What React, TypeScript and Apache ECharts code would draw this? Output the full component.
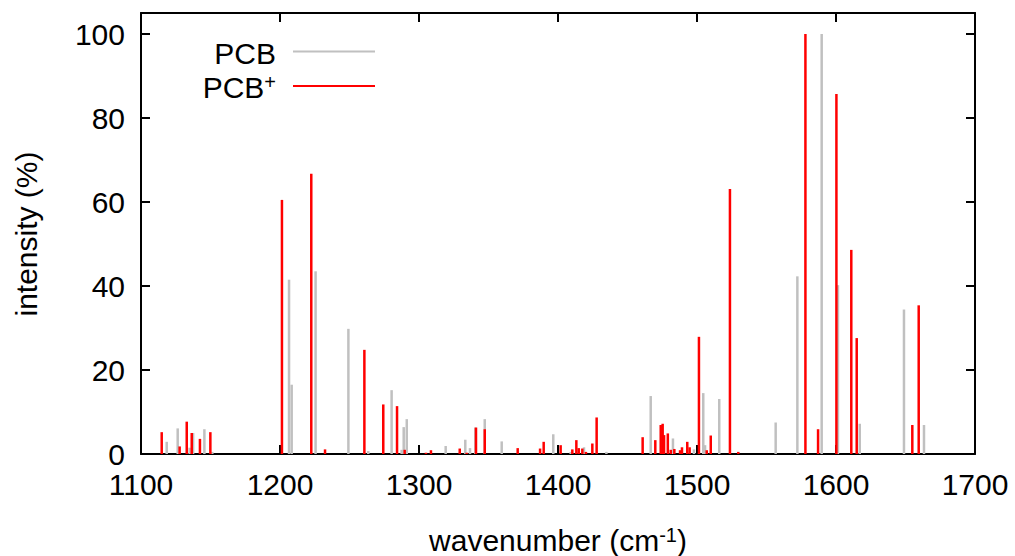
import React, { useEffect, useRef } from "react";
import * as echarts from "echarts";

const xTicks = [1100, 1700, 100];
const yTicks = [0, 105, 20];

const pcbX = [1118.5, 1126.4, 1135.0, 1137.5, 1145.6, 1151.3, 1206.5, 1208.4, 1225.6, 1249.2, 1263.5, 1280.3, 1287.5, 1289.0, 1291.2, 1319.2, 1333.3, 1336.7, 1340.5, 1347.3, 1359.5, 1396.6, 1409.1, 1418.7, 1434.8, 1466.7, 1482.7, 1497.8, 1504.5, 1505.8, 1516.0, 1556.6, 1572.2, 1589.7, 1601.4, 1617.1, 1648.9, 1663.3];
const pcbY = [2.9, 6.1, 1.5, 5.0, 5.9, 0.5, 41.5, 16.5, 43.5, 29.8, 0.7, 15.2, 1.0, 6.4, 8.3, 1.9, 3.4, 1.4, 6.3, 8.3, 3.0, 4.7, 0.5, 1.6, 0.5, 13.8, 3.7, 1.1, 14.5, 2.1, 13.1, 7.5, 42.3, 100, 40.2, 7.2, 34.4, 6.9];

const pcbPlusX = [1114.9, 1127.8, 1132.9, 1136.5, 1142.4, 1149.9, 1201.4, 1222.5, 1232.4, 1260.7, 1274.3, 1284.2, 1289.7, 1305.0, 1308.6, 1329.3, 1334.3, 1341.0, 1347.3, 1371.0, 1387.1, 1389.7, 1401.9, 1410.3, 1413.2, 1414.9, 1417.5, 1420.1, 1424.7, 1427.8, 1460.9, 1470.0, 1473.9, 1475.3, 1476.3, 1479.0, 1481.1, 1483.7, 1487.8, 1489.2, 1493.0, 1494.7, 1501.4, 1507.0, 1509.9, 1523.7, 1529.7, 1578.0, 1587.1, 1600.3, 1611.0, 1614.9, 1654.9, 1659.5];
const pcbPlusY = [5.2, 1.8, 7.7, 5.0, 3.6, 5.2, 60.5, 66.7, 1.1, 24.8, 11.8, 11.4, 1.0, 0.3, 0.9, 1.3, 0.3, 6.3, 5.9, 1.4, 1.3, 2.9, 2.1, 1.1, 3.3, 1.4, 1.3, 0.5, 2.5, 8.7, 4.0, 3.3, 6.9, 7.2, 4.5, 4.9, 1.0, 1.2, 0.9, 1.6, 2.9, 1.6, 27.9, 0.9, 4.4, 63.1, 0.5, 100, 5.9, 85.7, 48.6, 27.6, 6.9, 35.4];

const FONT = "Liberation Sans";
const FS = 30;
const GRAY = "#c0c0c0";
const RED = "#ff0000";
const supStyle = { fontSize: 20, lineHeight: 20, fontFamily: FONT, verticalAlign: "top", padding: [0, 0, 8, 0] };

function stickSeries(name: string, xs: number[], ys: number[], color: string, z: number) {
  return {
    type: "custom",
    name,
    z,
    xAxisIndex: 0,
    yAxisIndex: 0,
    encode: { x: 0, y: 1 },
    data: xs.map((x, i) => [x, ys[i]]),
    renderItem: (params: any, api: any) => {
      const x = api.value(0);
      const y = api.value(1);
      const p0 = api.coord([x, 0]);
      const p1 = api.coord([x, y]);
      return {
        type: "line",
        shape: { x1: p0[0], y1: p0[1], x2: p1[0], y2: p1[1] },
        style: { stroke: color, lineWidth: 2.5 },
      };
    },
  };
}

export default function App() {
  const ref = useRef<HTMLDivElement>(null);
  useEffect(() => {
    if (!ref.current) return;
    const chart = echarts.init(ref.current, undefined, { renderer: "svg" });
    const axisLine = { show: true, onZero: false, lineStyle: { color: "#000", width: 2 } };
    const tick = { show: true, inside: true, length: 9, lineStyle: { color: "#000", width: 2 } };
    chart.setOption({
      animation: false,
      grid: { left: 141, right: 40, top: 13, bottom: 102 },
      xAxis: [
        {
          type: "value",
          position: "bottom",
          min: xTicks[0],
          max: xTicks[1],
          interval: xTicks[2],
          axisLine,
          axisTick: tick,
          splitLine: { show: false },
          axisLabel: { color: "#000", fontSize: FS, fontFamily: FONT, margin: 15, formatter: (v: number) => String(v) },
        },
        {
          type: "value",
          position: "top",
          min: xTicks[0],
          max: xTicks[1],
          interval: xTicks[2],
          axisLine,
          axisTick: tick,
          splitLine: { show: false },
          axisLabel: { show: false },
        },
      ],
      yAxis: [
        {
          type: "value",
          position: "left",
          min: yTicks[0],
          max: yTicks[1],
          interval: yTicks[2],
          axisLine,
          axisTick: tick,
          splitLine: { show: false },
          axisLabel: { color: "#000", fontSize: FS, fontFamily: FONT, margin: 16, showMaxLabel: false, formatter: (v: number) => String(v) },
        },
        {
          type: "value",
          position: "right",
          min: yTicks[0],
          max: yTicks[1],
          interval: yTicks[2],
          axisLine,
          axisTick: tick,
          splitLine: { show: false },
          axisLabel: { show: false },
        },
      ],
      series: [
        stickSeries("PCB", pcbX, pcbY, GRAY, 2),
        stickSeries("PCB+", pcbPlusX, pcbPlusY, RED, 3),
      ],
      graphic: [
        {
          type: "text",
          x: 558,
          y: 540,
          style: {
            text: "wavenumber (cm{sup|-1})",
            fontSize: FS,
            lineHeight: 30,
            fontFamily: FONT,
            fill: "#000",
            align: "center",
            verticalAlign: "middle",
            rich: { sup: supStyle },
          },
        },
        {
          type: "text",
          x: 26,
          y: 234,
          rotation: Math.PI / 2,
          style: {
            text: "intensity (%)",
            fontSize: FS,
            fontFamily: FONT,
            fill: "#000",
            align: "center",
            verticalAlign: "middle",
          },
        },
        {
          type: "text",
          x: 276,
          y: 53,
          style: { text: "PCB", fontSize: FS, lineHeight: 30, fontFamily: FONT, fill: "#000", align: "right", verticalAlign: "middle" },
        },
        {
          type: "line",
          shape: { x1: 293, y1: 51.5, x2: 375, y2: 51.5 },
          style: { stroke: GRAY, lineWidth: 2 },
        },
        {
          type: "text",
          x: 276,
          y: 87,
          style: {
            text: "PCB{sup|+}",
            fontSize: FS,
            lineHeight: 30,
            fontFamily: FONT,
            fill: "#000",
            align: "right",
            verticalAlign: "middle",
            rich: { sup: supStyle },
          },
        },
        {
          type: "line",
          shape: { x1: 293, y1: 86, x2: 375, y2: 86 },
          style: { stroke: RED, lineWidth: 2 },
        },
      ],
    });
    return () => chart.dispose();
  }, []);
  return <div ref={ref} style={{ width: 1015, height: 556, position: "absolute", left: 0, top: 0 }} />;
}
